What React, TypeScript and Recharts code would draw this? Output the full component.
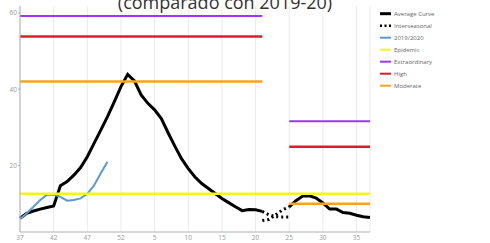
import React from "react";
import { LineChart, Line, XAxis, YAxis, CartesianGrid } from "recharts";

// Week labels (season runs from week 37 to week 37 of next year)
const weeks = [
  37, 38, 39, 40, 41, 42, 43, 44, 45, 46, 47, 48, 49, 50, 51, 52,
  1, 2, 3, 4, 5, 6, 7, 8, 9, 10, 11, 12, 13, 14, 15, 16, 17, 18, 19, 20,
  21, 22, 23, 24, 25, 26, 27, 28, 29, 30, 31, 32, 33, 34, 35, 36, 37,
];

const averageCurve: (number | null)[] = [
  6.2, 7.5, 8.1, 8.6, 9.0, 9.4, 14.7, 15.8, 17.5, 19.5,
  22.3, 25.8, 29.3, 32.8, 36.7, 40.7, 43.9, 42.2, 38.5, 36.3,
  34.6, 32.3, 28.6, 25.1, 21.8, 19.2, 17.0, 15.3, 14.0, 12.7,
  11.4, 10.3, 9.2, 8.2, 8.5, 8.4, 8.0, null, null, null,
  9.2, 10.8, 12.0, 12.1, 11.5, 10.2, 8.6, 8.6, 7.7, 7.5, 7.0, 6.6, 6.4,
];

// Interseasonal (weeks 21 to 25), two dotted traces
const interWeeksStart = 36;
const interseasonalA = [8.0, 7.1, 6.6, 6.5, 6.5];
const interseasonalB = [5.6, 5.9, 7.1, 8.4, 9.2];

// 2019/2020 season (from week 37 to week 50)
const season2019 = [6.0, 7.5, 9.2, 11.0, 12.3, 12.4, 11.8, 10.8, 11.0, 11.4, 12.6, 14.8, 18.0, 21.0];

// Thresholds: [season 1 value, season 2 value]
const epidemic = 12.6;
const extraordinary = [59.2, 31.6];
const high = [53.8, 24.9];
const moderate = [42.0, 10.0];
const season1End = 36; // index of week 21
const season2Start = 40; // index of week 25

const legendNames = ["Average Curve", "Interseasonal", "2019/2020", "Epidemic", "Extraordinary", "High", "Moderate"];
const legendColors = ["#000000", "#000000", "#5a9bd5", "#f5f51e", "#a035f2", "#dc1f26", "#fba41a"];

const data = weeks.map((w, i) => {
  const thr = (vals: number[]) =>
    i <= season1End ? vals[0] : i >= season2Start ? vals[1] : null;
  const ii = i - interWeeksStart;
  return {
    i,
    week: w,
    avg: averageCurve[i],
    interA: ii >= 0 && ii < interseasonalA.length ? interseasonalA[ii] : null,
    interB: ii >= 0 && ii < interseasonalB.length ? interseasonalB[ii] : null,
    s2019: i < season2019.length ? season2019[i] : null,
    epidemic,
    extraordinary: thr(extraordinary),
    high: thr(high),
    moderate: thr(moderate),
  };
});

const xTicks = [0, 5, 10, 15, 20, 25, 30, 35, 40, 45, 50];
const yTicks = [20, 40, 60];
const FONT = "'Open Sans', 'Noto Sans', sans-serif";

export default function App() {
  return (
    <div style={{ position: "absolute", left: 0, top: 0, width: 490, height: 243, background: "#fff", fontFamily: FONT }}>
      <LineChart width={490} height={243} data={data} margin={{ top: 6, right: 120, left: 0, bottom: 0 }}>
        <CartesianGrid horizontal={false} stroke="#ebebeb" strokeWidth={1} />
        <XAxis
          type="number"
          dataKey="i"
          domain={[0, 52]}
          ticks={xTicks}
          tickFormatter={(v: number) => String(weeks[v])}
          height={11}
          tickSize={0}
          tickMargin={3}
          axisLine={{ stroke: "#b0b0b0" }}
          tick={{ fontSize: 6.5, fill: "#999", fontFamily: FONT }}
          interval={0}
        />
        <YAxis
          type="number"
          domain={[2.6, 61.8]}
          ticks={yTicks}
          allowDataOverflow
          width={20}
          tickSize={2}
          tickMargin={1}
          axisLine={{ stroke: "#b0b0b0" }}
          tickLine={{ stroke: "#b0b0b0" }}
          tick={{ fontSize: 6.5, fill: "#999", fontFamily: FONT }}
        />
        <Line dataKey="avg" stroke="#000" strokeWidth={3} dot={false} isAnimationActive={false} />
        <Line dataKey="interA" stroke="#000" strokeWidth={3} strokeDasharray="2 3" dot={false} isAnimationActive={false} />
        <Line dataKey="interB" stroke="#000" strokeWidth={3} strokeDasharray="2 3" dot={false} isAnimationActive={false} />
        <Line dataKey="s2019" stroke={legendColors[2]} strokeWidth={2} dot={false} isAnimationActive={false} />
        <Line dataKey="epidemic" stroke={legendColors[3]} strokeWidth={2.5} dot={false} isAnimationActive={false} />
        <Line dataKey="extraordinary" stroke={legendColors[4]} strokeWidth={2} dot={false} isAnimationActive={false} />
        <Line dataKey="high" stroke={legendColors[5]} strokeWidth={2.5} dot={false} isAnimationActive={false} />
        <Line dataKey="moderate" stroke={legendColors[6]} strokeWidth={2.5} dot={false} isAnimationActive={false} />
      </LineChart>
      <svg width={490} height={243} style={{ position: "absolute", left: 0, top: 0, pointerEvents: "none" }}>
        <text x={225} y={8.5} textAnchor="middle" fontSize={18} fill="#333" fontFamily={FONT}>
          (comparado con 2019-20)
        </text>
        {legendNames.map((name, k) => {
          const y = 13.7 + k * 12;
          return (
            <g key={name}>
              {k === 1 ? (
                <line x1={380} x2={391} y1={y} y2={y} stroke="#000" strokeWidth={2.5} strokeDasharray="2 2.5" />
              ) : (
                <line x1={380} x2={391} y1={y} y2={y} stroke={legendColors[k]} strokeWidth={k === 0 ? 3 : 2} />
              )}
              <text x={394} y={y + 2} fontSize={6} fill="#666" fontFamily={FONT}>
                {name}
              </text>
            </g>
          );
        })}
      </svg>
    </div>
  );
}
